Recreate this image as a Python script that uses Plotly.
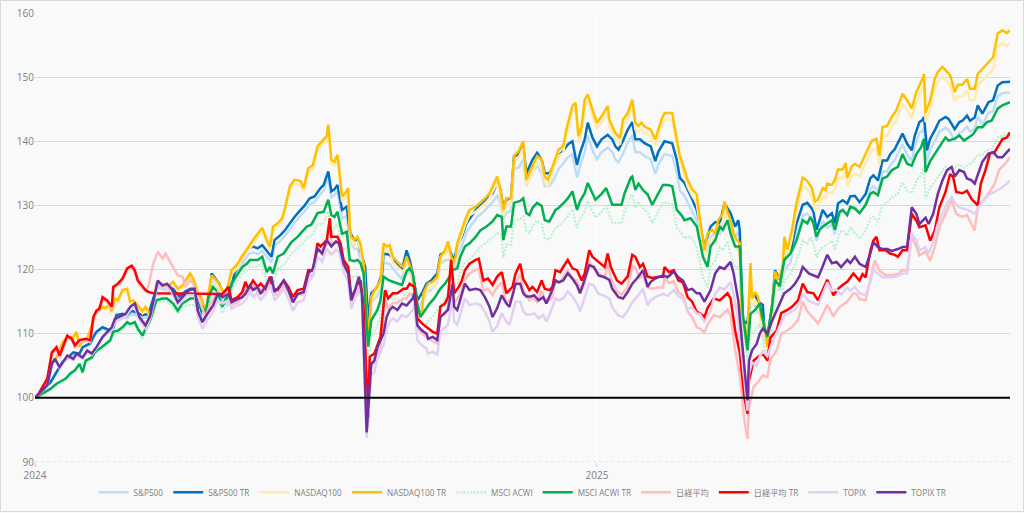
import pandas as pd
import plotly.graph_objects as go

START = "2024-01-01"

# ---------------- data (x = days since 2024-01-01, y = index, start = 100) ----------------
sp_days = [0,10,14,18,25,29,31,36,38,40,44,49,51,53,57,60,63,66,70,74,77,80,85,90,94,98,101,104,106,109,111,114,115,120,122,125,127,130,132,135,139,142,145,148,151,153,154,156,160,163,166,169,173,175,179,182,186,188,191,193,195,197,200,203,205,208,210,213,215,217,219,223,226,227,231,234,236,239,242,244,246,249,252,255,258,262,264,267,270,273,275,278,281,285,288,292,294,298,301,303,305,307,310,312,315,318,320,322,324,327,330,332,335,338,341,344,347,350,353,355,358,360,363,366,369,373,376,378,380,383,386,389,391,394,397,401,404,406,410,415,418,420,423,427,431,436,440,443,446,449,453,456,458,459,461,464,466,469,471,474,475,477,480,482,485,488,492,496,500,503,506,507,509,511,513,516,519,521,523,526,529,531,534,537,541,544,546,549,552,555,557,560,563,565,568,571,573,576,578,579,581,583,586,589,593,595,599,602,604,607,609,612,614,617,621,624,627,630,635]
sp500_tr = [100,102.4,104,105.6,107.1,106.9,107.9,108.5,109.5,110.3,111,110.5,111,112.9,113.1,112.9,113.6,113.3,112.9,113.1,115.5,117.8,117.3,117.0,115.8,116.6,117,116.8,115.5,113.1,113.1,116.3,119.4,117.8,116.3,115.2,116.8,119.4,120.4,121.7,123.3,123.6,123.3,123.8,123,122.3,122,124.6,125.4,126.2,127.2,128.2,129.3,129.8,131.1,131.4,132.7,133.2,135.3,132.2,132.5,133.2,129.3,129.8,125.9,124.6,124.6,122,120.4,112.1,116.3,117.3,119.4,122.5,122.3,121.3,120.8,119.9,123,121.5,119.4,115.2,116.3,117.8,118.3,119.4,122.3,122.8,123,121.5,123.6,125.1,127.2,128.5,129.6,130.4,130.9,131.9,133.5,132.5,129.8,130.9,131.1,137.7,137.9,139.2,135,136.1,137.1,138.2,137.1,135,135,136.1,137.7,138.5,139.5,140,136.3,138.2,140.3,142.9,140.6,139.2,140.3,141,140.3,139.2,138.7,140.1,141.8,143,140.3,140.3,139.7,139.2,136.9,138.4,140,139.7,137.1,134.3,133.5,131.5,129.3,123.6,126.7,127.4,127.2,130.3,128.8,126.7,127.7,126.1,112.1,111.6,116.3,116,115,114.5,111,109.5,114.2,119.9,118.4,121.5,122.8,127.2,130.1,130.4,129.5,129,126.2,127.7,129.3,128.2,128.8,127.2,130.3,130.8,130.3,131.4,131.5,130.5,131.8,134.2,134.7,133.9,137,137,138,138.8,140.1,141.2,139.6,138.6,140.9,143,143.3,143.8,138.6,140.4,141.7,143.2,143.8,143.5,141.9,143,143.2,144,143.2,143.7,145.6,144.3,146.1,146.4,148.7,149.2,149.3]
sp500 = [100,102.2,103.8,105.4,106.9,106.7,107.7,108.3,109.3,110.1,110.8,110.3,110.5,112.4,112.6,112.4,113.1,112.8,112.4,112.6,115.0,117.3,116.8,116.5,115.3,116.1,116.1,115.9,114.6,112.2,112.2,115.4,118.5,116.9,115.4,114.3,115.9,118.5,119.5,120.8,122.4,122.7,122.4,122.9,122.1,121.4,121.1,123.7,124.5,125.3,126.3,127.3,128.4,128.9,130.2,130.5,131.8,132.3,134.4,131.3,131.6,132.3,127.9,128.4,124.5,123.2,123.2,120.6,119.0,110.7,114.9,115.9,118.0,121.1,120.9,119.9,119.4,118.5,121.6,120.1,118.0,113.8,114.9,116.4,116.9,118.0,120.9,121.4,121.6,120.1,122.2,123.7,125.8,127.1,128.2,129.0,129.5,130.5,131.5,130.5,127.8,128.9,129.1,135.7,135.9,137.2,133.0,134.1,135.1,136.2,135.1,133.0,133.0,134.1,135.7,136.5,137.5,138.0,134.3,136.2,138.3,140.9,138.6,137.2,138.3,139.0,138.3,137.2,136.7,138.1,139.8,141.0,138.3,138.3,137.7,137.2,134.9,136.4,138.0,137.7,135.1,132.3,131.5,129.5,127.6,121.9,125.0,125.7,125.5,128.6,127.1,125.0,126.0,124.4,110.4,109.9,114.6,114.3,113.3,112.8,109.3,107.8,112.5,118.2,116.7,119.8,121.1,125.5,128.4,128.7,127.8,127.3,124.5,126.0,127.6,126.5,127.1,125.5,128.6,129.1,128.6,129.7,129.8,128.8,130.1,132.5,133.0,132.2,135.3,135.3,136.3,137.1,138.4,139.5,137.9,136.9,139.2,141.3,141.6,142.1,136.9,138.7,140.0,141.5,142.1,141.8,140.2,141.3,141.5,142.3,141.5,142.0,143.9,142.6,144.4,144.7,147.0,147.5,147.6]

nq_days = [0,2,8,11,14,18,21,25,27,29,31,34,37,39,42,46,48,50,52,54,57,60,62,64,66,70,72,75,77,79,83,86,90,93,96,101,103,106,109,111,113,115,117,119,122,124,126,128,132,135,137,139,142,145,147,148,151,153,155,158,161,163,166,169,173,175,178,181,184,187,190,191,193,195,197,200,202,204,205,206,208,210,212,214,217,219,221,225,227,229,231,233,236,240,242,244,246,249,252,253,256,259,262,264,267,269,272,274,275,278,280,282,283,287,290,293,296,298,301,303,305,307,310,312,315,318,320,324,327,330,332,334,337,341,344,346,350,352,354,356,358,360,363,366,369,373,374,378,381,383,386,388,389,391,393,395,397,401,404,406,408,410,415,418,420,423,425,428,431,433,436,438,441,443,445,448,449,451,453,455,457,459,460,462,464,466,467,469,471,473,475,477,480,482,484,487,488,490,493,496,500,502,503,506,508,510,513,515,516,519,521,523,526,528,529,532,534,537,539,542,545,548,550,552,555,558,561,565,568,571,574,578,579,580,583,586,588,591,594,596,599,601,604,607,609,612,614,617,621,624,627,630,633,635]
nasdaq100_tr = [100,100.5,102.4,105.3,106.3,108.7,109.5,109.5,110.3,108,109,109.2,111.3,112.9,114.2,114,114.5,113.5,115.5,115.2,116.8,117,115,115.2,114.7,113.5,114.2,113,114,117.8,117.8,117.3,118.1,117,117.5,119.4,118.6,116.5,115.2,113.1,116.3,119.1,118.6,118.1,116.8,116.3,117.8,119.9,120.9,122.2,122.8,123.6,124.6,125.6,126.2,126.5,124.6,123.6,126.7,127.2,128,129.8,133,134,133.8,132.7,135.8,136.3,139.2,140,140.8,142.6,137.1,136.8,137.9,131.4,131.9,132.7,126.7,125.1,124.6,125.1,124,121,109,115.7,116.7,118.3,124.1,123.6,123.8,122,121.2,120.4,122,120.7,119.4,113.1,113.6,116.3,117.8,118.1,118.9,122,123,124.4,121,122,124.1,126.2,127.7,128.8,129.3,129.8,130.4,131.1,131.9,133,134.5,132.7,129.3,131.1,131.1,137.7,138.5,140,134,136.1,137.7,137.2,134.5,134,136.1,138.7,139.2,141.8,145.5,146,140.8,142.3,146.5,147.3,145,142.9,143.9,145.5,143.4,141.3,140.5,143.4,144.4,146,146.5,142.9,142.4,142.9,142.3,141.8,140.3,141.8,143.4,144.4,144.4,140.3,137.7,135.6,134,132.5,131.7,128,123,125.6,126.2,125.6,127.7,128.8,130.6,129,127.7,125.6,124.6,124.1,114.2,111,109.5,121,115.5,116.5,115.7,112.6,111.6,107.9,114.2,119.7,118.4,120.4,125.1,123.1,126.2,130.4,134.3,134,133.8,132.7,130.6,130.9,132.7,132.4,133.4,133.2,134,135.6,135.6,136.6,134.3,136.1,136.5,136,137,138.6,140.1,140.4,137.8,142.2,142.4,143.8,144.8,147.4,146.4,145.1,147.7,149.7,150.5,144.5,146.3,149.7,150.8,151.6,150.8,150.3,147.7,148.8,148.8,149.7,148.2,148.2,150.5,151.3,152.3,153.1,156.8,157.3,156.9,157.3]
nasdaq100 = [100,100.5,102.2,105.1,106.1,108.5,109.3,109.3,110.1,107.8,108.8,109.0,111.1,112.7,114.0,113.8,114.2,113.2,115.2,114.9,116.5,116.7,114.7,114.9,114.4,113.2,113.9,112.7,113.7,117.5,117.5,117.0,117.8,116.7,117.2,118.8,118.0,115.9,114.6,112.5,115.7,118.5,118.0,117.5,116.2,115.7,117.2,119.3,120.3,121.6,122.2,123.0,124.0,125.0,125.6,125.9,124.0,123.0,126.1,126.6,127.4,129.2,132.4,133.4,133.2,132.1,135.2,135.7,138.6,139.4,140.2,142.0,136.5,136.2,137.3,130.6,131.1,131.9,125.9,124.3,123.8,124.3,123.2,120.2,108.2,114.9,115.9,117.5,123.3,122.8,123.0,121.2,120.4,119.6,121.2,119.9,118.6,112.3,112.8,115.5,117.0,117.3,118.1,121.2,122.2,123.6,120.2,121.2,123.3,125.4,126.9,128.0,128.5,129.0,129.6,130.3,131.1,132.2,133.5,131.7,128.3,130.1,130.1,136.7,137.5,139.0,133.0,135.1,136.7,136.2,133.5,133.0,135.1,137.7,138.2,140.8,144.5,145.0,139.8,141.3,145.5,146.3,144.0,141.9,142.9,144.5,142.4,140.3,139.5,142.4,143.4,145.0,145.5,141.9,141.4,141.9,141.3,140.8,139.3,140.8,142.4,143.4,143.4,139.3,136.7,134.6,133.0,131.5,130.4,126.7,121.7,124.3,124.9,124.3,126.4,127.5,129.3,127.7,126.4,124.3,123.3,122.8,112.9,109.7,108.2,119.7,114.2,115.2,114.4,111.3,110.3,106.6,112.9,118.4,117.1,119.1,123.8,121.8,124.9,129.1,133.0,132.7,132.5,131.4,129.3,129.6,131.4,131.1,132.1,131.9,132.7,134.3,134.3,135.3,133.0,134.6,135.0,134.5,135.5,137.1,138.6,138.9,136.3,140.7,140.9,142.3,143.3,145.9,144.9,143.6,146.2,148.2,149.0,143.0,144.8,148.2,149.3,150.1,149.3,148.8,146.2,147.0,147.0,147.9,146.4,146.4,148.7,149.5,150.4,151.2,154.8,155.3,154.9,155.3]

acwi_days = [0,10,14,20,23,26,29,31,33,37,39,42,46,49,51,54,57,60,62,65,67,70,72,75,79,83,86,90,93,96,101,104,106,109,111,113,116,119,122,124,126,128,132,135,138,140,145,147,148,151,153,155,158,162,164,167,171,174,177,180,184,188,191,193,195,197,200,203,205,208,210,212,214,217,219,223,225,227,230,233,236,239,242,244,246,249,251,254,257,260,264,267,270,272,275,277,280,283,287,290,294,298,301,304,305,307,310,312,316,318,320,322,324,327,330,332,335,339,341,344,347,350,353,355,358,360,363,365,369,372,374,376,380,382,384,388,389,391,393,396,399,402,406,409,412,415,418,421,423,427,431,435,438,440,443,446,448,451,453,456,459,461,464,466,469,472,475,477,480,482,485,488,492,496,500,503,505,507,509,511,513,516,519,521,524,526,529,531,534,537,541,544,546,549,552,555,558,562,565,568,571,574,577,579,580,583,586,589,593,595,599,602,605,608,611,614,617,620,623,627,630,635]
acwi_tr = [100,101.4,102.2,103,103.8,104.3,105.3,104,105.8,106.3,107.1,107.6,108.4,109,110.3,110.5,111,111.8,111.5,111.8,110.8,109.7,110.8,112.1,115.2,115.5,115.5,114.7,113.6,114.7,115.5,115.5,114,114.2,113.1,115.8,117.3,116.5,114.2,115.2,116.3,117.8,119.4,120.4,120.9,121.5,121.5,121.8,122,119.6,120.4,119.4,122,122.5,123.3,124.3,125.1,125.9,126.7,127,128.8,129,130.9,128.5,128.2,129,125.6,125.9,121.5,121.3,121.5,121,119.4,108,112.1,113.7,115.2,118.9,118.4,118.1,117.8,117.6,119.7,120.2,119.4,114.7,112.6,113.7,114.7,115.5,117,117.8,118.9,119.9,120.2,122,123.6,124.1,125.1,126.1,126.7,127.5,128.5,128.2,124.6,126.7,126.7,130.4,130.7,131.1,128.8,128.5,129.6,130.4,129.9,127.7,127.5,129.3,129.6,130.3,131.1,132.2,129.3,130.7,131.9,133.5,131.9,130.9,131.8,132.7,131.4,130.1,130.1,130.1,131.9,134.3,134.5,132.4,133.4,132.4,131.7,130.1,131.9,133.2,133.2,133,129.3,128.5,127.7,128,126.7,122,120.4,123.6,124.6,126.7,126.2,127.7,125.6,123.6,123.6,113.1,107.4,113.1,113.7,114.7,111,109.5,114.2,118.4,117.4,121.5,122.5,124.6,127.7,127.2,128.2,127.2,125.1,126.2,126.7,127.2,127.7,126.2,129,129.3,128.5,129.8,129.5,128.8,130.1,131.8,132.1,131.6,134.2,134.5,135.5,136,138,136.5,136.2,138,139,140.4,135.2,136.9,138,139,140.6,140.1,140.4,140.9,140.1,140.6,141.1,142.2,142.2,143,143.2,145.1,145.6,146.1]
acwi = [100,101.2,102.0,102.8,103.6,104.1,105.1,103.8,105.6,106.1,106.9,107.4,108.2,108.8,109.8,110.0,110.5,111.3,111.0,111.3,110.3,109.2,110.3,111.6,114.7,115.0,115.0,114.2,113.1,114.2,114.5,114.5,113.0,113.2,112.1,114.8,116.3,115.5,113.2,114.2,115.3,116.8,118.4,119.4,119.9,120.5,120.5,120.8,121.0,117.8,118.6,117.6,120.2,120.7,121.5,122.5,123.3,124.1,124.9,125.2,127.0,127.2,129.1,126.7,126.4,127.2,123.1,123.4,119.0,118.8,119.0,118.5,116.9,105.5,109.6,111.2,112.7,116.4,115.9,115.6,115.3,115.1,117.2,117.7,116.9,112.2,110.1,111.2,112.2,113.0,114.5,115.3,116.4,117.4,117.7,119.5,121.1,121.6,122.6,123.6,124.2,125.0,125.7,125.4,121.8,123.9,123.9,127.6,127.9,128.3,126.0,125.7,126.8,127.6,127.1,124.9,124.7,126.5,126.8,127.5,128.3,129.4,126.5,127.9,129.1,130.7,129.1,128.1,129.0,129.9,128.6,127.3,127.3,127.3,129.1,131.5,131.7,129.6,130.6,129.6,128.9,127.3,129.1,130.4,130.4,130.2,126.5,125.7,124.9,125.2,123.5,118.8,117.2,120.4,121.4,123.5,123.0,124.5,122.4,120.4,120.4,111.5,106.0,109.9,110.5,111.5,107.8,106.3,111.0,115.2,114.2,118.3,119.3,121.4,124.5,124.0,125.0,124.0,121.9,123.0,123.5,124.0,124.5,123.0,125.8,126.1,125.3,126.6,125.6,124.8,126.1,128.0,128.2,127.4,130.2,130.4,131.3,131.8,133.6,132.3,131.9,133.8,134.8,136.0,131.0,132.7,133.7,134.8,136.0,135.7,135.9,136.4,135.9,136.3,136.8,137.9,137.9,138.6,138.7,140.6,140.9,141.3]

nk_tr_days = [0,2,8,11,14,16,21,24,26,29,33,36,38,40,42,44,47,50,51,54,57,60,63,65,67,72,74,77,122,126,128,132,135,137,139,142,145,147,150,153,155,158,162,165,168,171,175,178,181,184,186,190,192,193,197,199,201,204,206,208,210,212,214,217,218,221,225,228,230,233,236,240,242,244,247,249,252,256,259,262,264,267,269,271,273,276,278,280,283,287,289,292,295,298,301,304,307,311,313,316,318,320,322,324,327,330,332,335,337,339,342,344,347,350,353,356,358,361,363,367,371,373,375,379,382,386,389,391,394,396,399,402,406,409,410,413,416,419,422,425,428,431,433,436,438,442,446,451,453,456,459,462,464,465,468,471,474,477,479,483,486,490,493,497,500,503,507,510,513,516,520,523,526,529,533,535,537,539,541,544,546,548,550,554,557,560,562,565,568,571,574,576,580,583,586,589,593,596,598,600,604,607,610,614,616,619,622,625,628,630,633,635]
nikkei_tr = [100,100.5,103,107.1,107.9,106.6,109.7,109.2,108.2,109,109.2,109,112.6,113.6,113.9,115.7,115.2,114.2,117.3,117.8,118.6,120.2,120.6,119.9,118.3,116.8,116.5,116.3,116.2,117.3,115.2,115.7,116.5,118.1,117,118.3,117.3,117.8,117,118.9,117,116.8,118.3,117.3,115.7,116.8,117,119.9,119.8,124.1,123.6,124.6,128,125.1,125.1,124.1,121.5,120.4,115.7,116.5,117.3,118.3,114,97,106.4,106.9,109.5,116.8,115.5,116.3,116.3,117,117,117.8,117.3,112.4,111.6,110.8,110.3,110,114.2,114.7,115.7,121.5,116.3,117.3,118.3,119.9,120.9,121.5,121.7,118.3,118.6,117.6,118.9,119.6,116.3,117.3,119.4,120.9,118.5,117.7,116.8,117.3,116.5,118.3,117,116.8,117.3,119.9,119.6,120.4,121.5,120.2,119.9,118.3,119.4,123,122,121.2,120.4,122.5,120.4,118.3,117.8,118.9,122.3,122,120.4,120.9,118.9,118.7,118.9,118.9,120.4,119.6,119.9,118.3,118,115.7,115,113.4,113.2,112.6,114,115.5,115.2,116.3,115.5,110.5,107,100.1,97.5,102.7,105.8,106.4,106.9,105.8,109.4,110.5,113.2,113.7,114.2,115.2,117.8,116.5,116.3,115.2,116.8,118.4,116,117,117.6,118.1,119.4,118.8,118.3,119.3,118.8,122.9,124.5,125.1,123,123,122.5,122.3,122,123,123,128.7,127.6,126.6,126.9,124.5,126.1,129.7,132.1,134.9,134.4,132.1,131.9,132.3,131,130,133.4,135.5,138.1,138.3,139.6,140.3,140.6,141.4]

nk_days = [0,2,8,11,14,16,21,24,26,29,33,36,38,40,42,44,47,50,51,54,57,60,63,65,67,72,74,77,80,83,85,88,90,93,96,98,101,103,106,109,111,114,116,119,122,126,128,132,135,137,139,142,145,147,150,153,155,158,162,165,168,171,175,178,181,184,186,190,192,193,197,199,201,204,206,208,210,212,214,217,218,221,225,228,230,233,236,240,242,244,247,249,252,256,259,262,264,267,269,271,273,276,278,280,283,287,289,292,295,298,301,304,307,311,313,316,318,320,322,324,327,330,332,335,337,339,342,344,347,350,353,356,358,361,363,367,371,373,375,379,382,386,389,391,394,396,399,402,406,409,410,413,416,419,422,425,428,431,433,436,438,442,446,451,453,456,459,462,464,465,468,471,474,477,479,483,486,490,493,497,500,503,507,510,513,516,520,523,526,529,533,535,537,541,544,547,550,554,558,562,565,568,571,574,576,580,583,586,589,593,597,600,604,607,610,612,614,617,621,625,628,632,635]
nikkei = [100,100.4,102.8,106.8,107.6,106.3,109.4,108.9,107.9,108.7,108.9,108.7,112.3,113.3,113.6,115.4,114.9,113.9,117.0,117.5,118.3,119.9,120.3,119.6,118.0,116.6,117.5,120.9,122.8,121.7,122.5,121.2,120.5,119.1,118.9,117.3,118.3,117.8,116.0,113.8,112.6,114.5,115.3,116.5,115.6,116.6,114.5,114.9,115.7,117.3,116.2,117.5,116.5,117.0,116.2,118.1,116.2,116.0,117.5,116.5,114.9,116.0,116.2,119.1,119.0,123.3,122.8,123.8,127.1,124.2,124.2,123.2,120.5,119.4,114.7,115.4,116.2,117.2,112.8,95.5,104.9,105.4,108.0,115.3,114.0,114.8,114.8,115.5,115.5,116.3,115.8,110.9,110.1,109.3,108.8,108.5,112.7,113.2,114.2,120.0,114.8,115.8,116.8,118.4,119.4,119.9,120.1,116.7,117.0,116.0,117.3,118.0,114.7,115.7,117.8,119.3,116.9,116.1,115.2,115.7,114.9,116.7,115.4,115.2,115.7,118.3,118.0,118.8,119.9,118.6,118.3,116.7,117.8,121.3,120.3,119.5,118.7,120.8,118.7,116.6,116.1,117.2,120.6,120.3,118.7,119.2,117.2,117.0,117.2,117.2,118.7,117.9,118.2,116.5,116.0,113.5,112.6,111.0,110.8,110.2,111.4,112.9,112.6,113.7,112.9,107.5,103.5,96.5,93.6,98.5,101.7,102.5,103.5,103.2,106.0,107.3,110.0,110.5,111.0,112.2,115.0,113.5,112.5,111.6,113.0,114.5,112.7,113.9,114.5,115.0,116.3,116.2,115.4,115.2,118.5,121.4,119.8,119.1,119.1,119.3,119.9,119.8,125.1,123.6,122.2,122.8,121.4,123.5,126.6,128.8,130.8,128.7,128.2,128.5,127.1,126.1,129.7,130.6,131.8,133.4,135.6,136.5,137.5]

tp_days = [0,8,11,13,16,21,25,27,31,34,37,40,44,47,50,52,55,59,62,65,68,72,75,80,83,86,89,91,93,96,99,102,104,106,109,112,116,119,122,126,128,132,135,137,140,142,145,147,151,154,156,159,162,165,168,171,175,178,181,184,187,190,193,196,198,201,204,206,208,211,213,216,219,221,223,227,229,231,233,236,239,242,246,247,249,252,255,256,259,262,264,267,269,272,273,275,278,280,283,287,290,293,296,298,301,304,307,309,313,316,318,320,323,325,328,331,333,336,339,341,344,347,350,353,355,358,361,364,367,371,374,376,380,383,386,389,392,396,399,401,404,409,412,416,419,422,425,428,431,433,436,440,443,446,449,453,455,458,460,462,464,465,467,470,472,474,477,480,483,486,488,492,495,498,500,504,507,510,512,516,519,522,525,529,531,534,537,541,544,546,549,552,555,558,562,565,568,571,574,576,580,582,585,588,591,594,597,599,602,605,607,610,612,614,617,621,624,627,630,633,635]
topix_tr = [100,102,105.3,106.1,104.8,106.6,106.1,106.9,106.3,107.4,106.9,107.9,109.5,110.3,111,112.3,112.6,113.1,114.2,114.7,112.6,111.3,112.8,118.3,117.5,117.8,117,116,114.9,115.7,116.5,117,117,113.6,111.8,113,114.4,116.2,115.7,116.2,114.9,115.4,115.7,116.2,117.5,116.8,117.3,116.2,117.8,118.9,116.5,117.3,118.3,116.8,114.9,116.2,116.5,119.4,120.2,123.3,122.5,124.6,123.6,124.4,124.1,120.9,119.4,115.2,116.5,118.9,116,94.6,105.3,105.8,107.9,110,112.6,113.7,114.2,113.7,114.7,114.4,115.5,116.3,111.3,110.5,110,109.2,109.5,109,112.6,113.2,113.7,117.8,114.2,113.7,116.3,117.8,116.8,117,116.8,115.7,114.2,112.6,114,116,114.7,114.2,117.8,117.8,116.3,115.8,115.8,116,115.2,115.7,114.7,116.3,118.3,118,118.3,119.4,118.6,117.5,116.3,118.4,120.7,120.4,119.1,118.8,118.4,117,115.7,115.5,116.5,117.8,118.6,119.9,117.3,118.1,118.6,119.1,118.8,119.7,118.8,118.3,116.8,117,116.3,116.3,115,116.8,119.4,120.4,120.1,121.2,119.4,115.2,110,103.7,99.6,105.8,107.4,108.4,110,110.8,110,112,113.7,115.2,116.3,117,117.8,119,120.4,119.4,119.1,118.8,119.9,122.3,121,121.2,120.4,121.5,121,122,120.9,120.4,122.5,124.3,123.5,123.2,123.2,122.9,123.2,123.5,123.5,129.7,128.7,127.1,128.1,127.1,128.7,131.8,133.9,135.5,136,134.5,135.5,135.2,134.2,133.9,133.4,134.9,136.8,138.1,138.3,137.5,137.5,138.3,138.8]
topix = [100,101.8,105.1,105.9,104.6,106.4,105.9,106.7,106.1,107.2,106.7,107.7,109.3,110.1,110.6,111.8,112.1,112.6,113.7,114.2,112.1,110.8,112.3,117.8,117.0,117.3,116.5,115.5,114.4,115.2,116.0,116.0,116.0,112.6,110.8,112.0,113.4,115.2,114.7,115.2,113.9,114.4,114.7,115.2,116.5,115.8,116.3,115.2,116.5,117.6,115.2,116.0,117.0,115.5,113.6,114.9,115.2,118.1,118.9,122.0,121.2,123.3,122.3,123.1,122.8,119.6,118.1,113.9,115.2,117.6,114.7,93.8,103.5,104.0,106.1,108.2,110.8,111.9,112.4,111.9,112.9,112.6,113.7,114.5,109.0,108.2,107.7,106.9,107.2,106.7,110.3,110.9,111.4,115.5,111.9,111.4,114.0,115.5,114.5,114.7,114.5,113.4,111.9,110.3,111.2,113.2,111.9,111.4,115.0,115.0,113.5,113.0,113.0,113.2,112.4,112.9,111.9,113.5,115.5,115.2,115.5,116.6,115.8,114.7,113.5,115.6,117.8,117.5,116.2,115.9,115.5,114.1,112.8,112.6,113.6,114.9,115.7,117.0,114.4,115.2,115.7,116.2,115.9,116.8,115.9,115.4,113.9,114.1,113.1,113.1,111.8,113.6,116.2,117.2,116.9,118.0,116.2,112.0,107.5,101.9,98.0,103.8,105.5,105.0,106.5,107.3,106.5,108.5,110.2,111.7,112.8,113.3,113.8,114.8,116.2,115.1,114.8,114.5,115.6,118.0,116.7,116.9,116.1,117.2,116.7,117.3,116.3,116.0,118.0,119.9,119.3,118.8,118.8,118.8,119.0,119.4,119.4,125.6,124.6,123.0,123.5,122.5,124.4,127.1,128.7,130.3,131.3,130.4,129.7,129.5,129.3,129.0,128.7,129.5,130.6,131.6,132.0,132.3,132.8,133.4,133.9]

# ---------------- series definitions ----------------
series = [
    ("S&P500", sp_days, sp500, "#BFDDF6", "solid"),
    ("S&P500 TR", sp_days, sp500_tr, "#0070C0", "solid"),
    ("NASDAQ100", nq_days, nasdaq100, "#FFEBB0", "solid"),
    ("NASDAQ100 TR", nq_days, nasdaq100_tr, "#FFC000", "solid"),
    ("MSCI ACWI", acwi_days, acwi, "#B6F2CE", "2px,1.5px"),
    ("MSCI ACWI TR", acwi_days, acwi_tr, "#00B050", "solid"),
    ("日経平均", nk_days, nikkei, "#FFBDBD", "solid"),
    ("日経平均 TR", nk_tr_days, nikkei_tr, "#FF0000", "solid"),
    ("TOPIX", tp_days, topix, "#E2D0F2", "solid"),
    ("TOPIX TR", tp_days, topix_tr, "#7030A0", "solid"),
]

start = pd.Timestamp(START)
fig = go.Figure()
for name, days, vals, color, dash in series:
    assert len(days) == len(vals), (name, len(days), len(vals))
    dates = start + pd.to_timedelta(days, unit="D")
    fig.add_trace(go.Scatter(
        x=dates, y=vals, name=name, mode="lines",
        line=dict(color=color, width=2.5 if dash == "solid" else 2.2, dash=dash),
        hoverinfo="x+y+name",
    ))

x_end = start + pd.to_timedelta(max(sp_days), unit="D")

W, H = 1024, 513
ML, MR, MT, MB = 35, 14, 13, 51
pw, ph = W - ML - MR, H - MT - MB

# baseline at 100, dotted bottom line at 90, outer chart border
fig.add_shape(type="line", xref="paper", x0=0, x1=1, yref="y", y0=100, y1=100,
              line=dict(color="black", width=2), layer="above")
fig.add_shape(type="line", xref="paper", x0=0, x1=1, yref="y", y0=90, y1=90,
              line=dict(color="#d0d0d0", width=1, dash="dot"), layer="below")
fig.add_shape(type="rect", xref="paper", yref="paper",
              x0=-(ML - 0.5) / pw, x1=1 + (MR - 0.5) / pw,
              y0=-(MB - 1.5) / ph, y1=1 + (MT - 0.5) / ph,
              line=dict(color="#d9d9d9", width=1), layer="below")

font = "Open Sans, Liberation Sans, Noto Sans CJK JP, sans-serif"
fig.update_layout(
    width=W, height=H,
    margin=dict(l=ML, r=MR, t=MT, b=MB, autoexpand=False),
    paper_bgcolor="#f9f9f9", plot_bgcolor="#f9f9f9",
    font=dict(family=font, size=10, color="#7f7f7f"),
    showlegend=True,
    legend=dict(orientation="h", x=0.5, xanchor="center", yref="container", y=0.012,
                yanchor="bottom", font=dict(size=8.2, color="#7f7f7f"),
                itemwidth=30, tracegroupgap=0, bgcolor="rgba(0,0,0,0)"),
    xaxis=dict(
        type="date", range=[start, x_end], automargin=False,
        tickvals=[pd.Timestamp("2024-01-01"), pd.Timestamp("2025-01-01")],
        ticktext=["2024", "2025"],
        showgrid=True, gridcolor="#ffffff", gridwidth=1,
        ticks="outside", ticklen=4, tickcolor="#d0d0d0",
        showline=False, zeroline=False,
        tickfont=dict(size=10, color="#7f7f7f"),
    ),
    yaxis=dict(
        range=[90, 160], dtick=10, tick0=90, automargin=False,
        showgrid=True, gridcolor="#d9d9d9", gridwidth=1,
        zeroline=False, showline=False, ticks="",
        tickfont=dict(size=10, color="#7f7f7f"),
    ),
)

fig.write_html(
    "out.html",
    config={"displayModeBar": False},
    post_script="document.body.style.margin='0';document.body.style.background='#f9f9f9';",
)
